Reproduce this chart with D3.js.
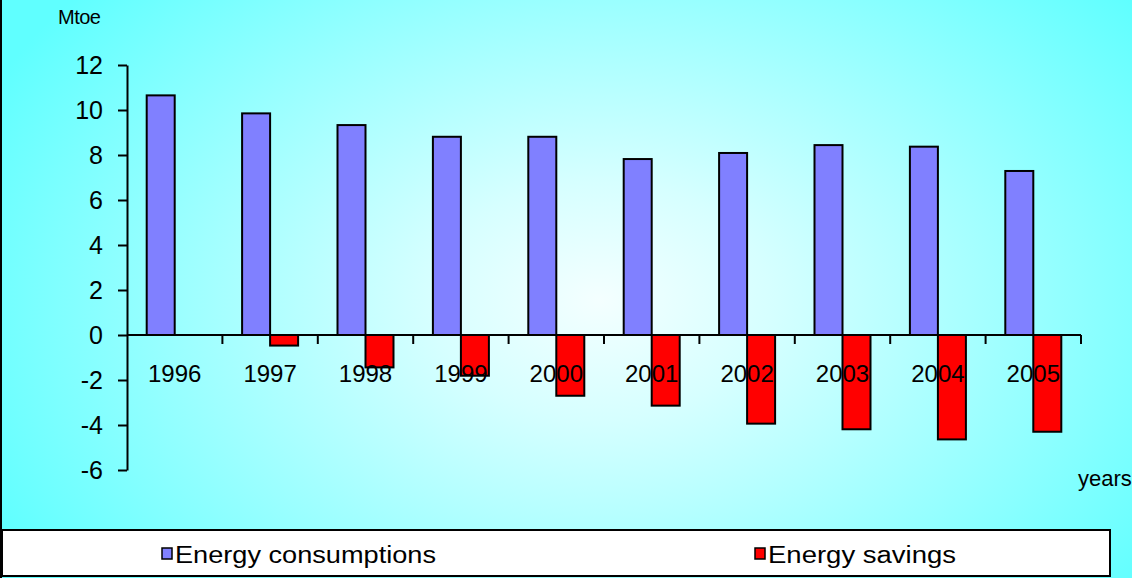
<!DOCTYPE html>
<html>
<head>
<meta charset="utf-8">
<script src="https://cdn.jsdelivr.net/npm/d3@7"></script>
<style>
  html, body { margin: 0; padding: 0; background: #fff; }
  svg { display: block; font-family: "Liberation Sans", Arial, sans-serif; }
</style>
</head>
<body>
<svg id="chart" width="1132" height="578"></svg>
<script>
// Energy consumption vs. energy savings, Mtoe
const years = ["1996", "1997", "1998", "1999", "2000", "2001", "2002", "2003", "2004", "2005"];
const consumption = [10.65, 9.85, 9.33, 8.81, 8.81, 7.82, 8.09, 8.44, 8.37, 7.29];
const savings = [null, -0.47, -1.44, -1.81, -2.70, -3.14, -3.94, -4.19, -4.64, -4.30];
const yTicks = [-6, -4, -2, 0, 2, 4, 6, 8, 10, 12];
const seriesNames = ["Energy consumptions", "Energy savings"];
const seriesColors = ["#8080FF", "#FF0000"];

const W = 1132, H = 578;
const svg = d3.select("#chart");
const defs = svg.append("defs");

// chart area fill: light centre fading out to cyan
const bg = defs.append("radialGradient")
  .attr("id", "bgFill")
  .attr("gradientUnits", "userSpaceOnUse")
  .attr("cx", 600).attr("cy", 300).attr("r", 680)
  .attr("gradientTransform", "translate(600,300) scale(1,0.7) translate(-600,-300)");
bg.append("stop").attr("offset", 0).attr("stop-color", "#F4FFFF");
bg.append("stop").attr("offset", 0.25).attr("stop-color", "#D6FFFF");
bg.append("stop").attr("offset", 1).attr("stop-color", "#60FFFF");

svg.append("rect").attr("x", 0).attr("y", 0).attr("width", W).attr("height", H)
  .attr("fill", "url(#bgFill)");
svg.append("line").attr("x1", 1).attr("x2", 1).attr("y1", 0).attr("y2", H)
  .attr("stroke", "#000").attr("stroke-width", 2);

// scales
const x = d3.scaleBand().domain(years).range([127, 1081]).paddingInner(0).paddingOuter(0);
const y = d3.scaleLinear().domain([-6, 12]).range([470, 65]);
const barW = x.bandwidth() * 0.2935;

// y axis
const yAxis = svg.append("g").attr("transform", "translate(127,0)")
  .call(d3.axisLeft(y).tickValues(yTicks).tickSize(9).tickSizeOuter(0).tickPadding(15)
    .tickFormat(d => String(d)));
yAxis.select(".domain").attr("stroke", "#000").attr("stroke-width", 2);
yAxis.selectAll(".tick line").attr("stroke", "#000").attr("stroke-width", 2);
yAxis.selectAll(".tick text").attr("font-size", 25).attr("fill", "#000")
  .attr("font-family", "Liberation Sans, Arial, sans-serif");

// bars
const groups = svg.append("g").selectAll("g").data(years).join("g");
groups.append("rect")
  .attr("x", d => x(d) + x.bandwidth() / 2 - barW)
  .attr("width", barW)
  .attr("y", (d, i) => y(consumption[i]))
  .attr("height", (d, i) => y(0) - y(consumption[i]))
  .attr("fill", seriesColors[0]).attr("stroke", "#000").attr("stroke-width", 2);
groups.filter((d, i) => savings[i] !== null).append("rect")
  .attr("x", d => x(d) + x.bandwidth() / 2)
  .attr("width", barW)
  .attr("y", y(0))
  .attr("height", d => y(savings[years.indexOf(d)]) - y(0))
  .attr("fill", seriesColors[1]).attr("stroke", "#000").attr("stroke-width", 2);

// x axis along zero with ticks between categories
const xAxis = svg.append("g");
xAxis.append("line").attr("x1", x.range()[0]).attr("x2", x.range()[1])
  .attr("y1", y(0)).attr("y2", y(0)).attr("stroke", "#000").attr("stroke-width", 2);
xAxis.selectAll("line.tick").data(years).join("line").attr("class", "tick")
  .attr("x1", d => x(d) + x.bandwidth()).attr("x2", d => x(d) + x.bandwidth())
  .attr("y1", y(0)).attr("y2", y(0) + 9)
  .attr("stroke", "#000").attr("stroke-width", 2);
xAxis.selectAll("text").data(years).join("text")
  .attr("x", d => x(d) + x.bandwidth() / 2)
  .attr("y", y(0) + 47)
  .attr("text-anchor", "middle").attr("font-size", 24).attr("fill", "#000")
  .text(d => d);

// axis titles
svg.append("text").attr("x", 58).attr("y", 24).attr("font-size", 20)
  .attr("letter-spacing", -0.5).text("Mtoe");
svg.append("text").attr("x", 1078).attr("y", 486).attr("font-size", 22).text("years");

// legend
const legend = svg.append("g");
legend.append("rect").attr("x", 2).attr("y", 530).attr("width", 1108).attr("height", 46)
  .attr("fill", "#fff").attr("stroke", "#000").attr("stroke-width", 2);
const legendItems = [
  { name: seriesNames[0], color: seriesColors[0], x: 162, len: 261 },
  { name: seriesNames[1], color: seriesColors[1], x: 755, len: 188 }
];
const li = legend.selectAll("g.item").data(legendItems).join("g").attr("class", "item");
li.append("rect").attr("x", d => d.x).attr("y", 548).attr("width", 10).attr("height", 11)
  .attr("fill", d => d.color).attr("stroke", "#000").attr("stroke-width", 1.5);
li.append("text").attr("x", d => d.x + 13).attr("y", 563).attr("font-size", 23)
  .attr("textLength", d => d.len).attr("lengthAdjust", "spacingAndGlyphs")
  .text(d => d.name);
</script>
</body>
</html>
